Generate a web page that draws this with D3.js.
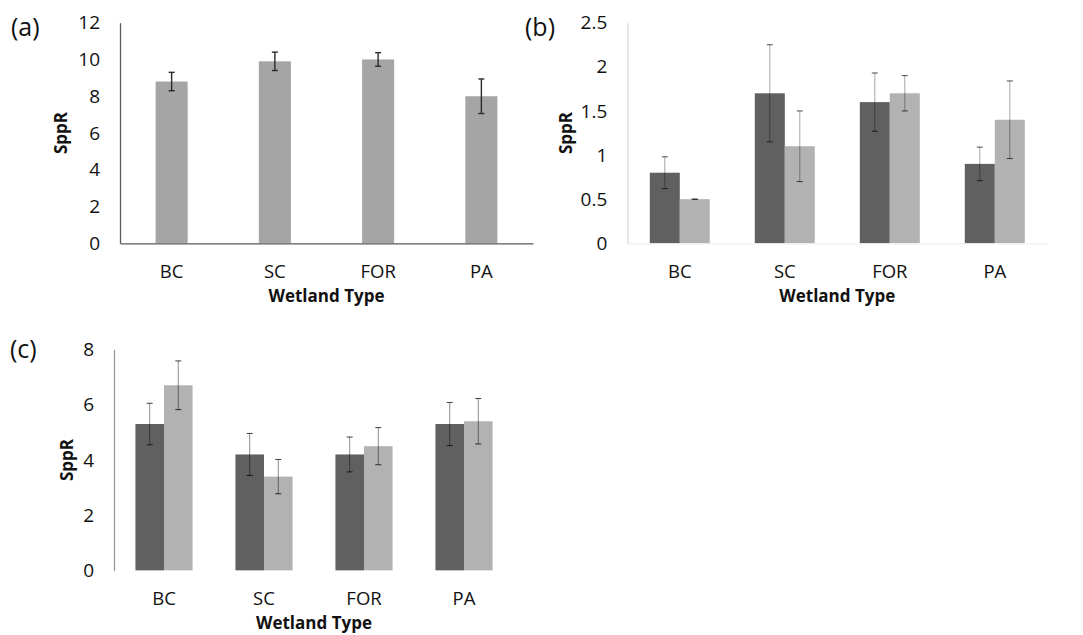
<!DOCTYPE html>
<html>
<head>
<meta charset="utf-8">
<script src="https://cdn.jsdelivr.net/npm/d3@7"></script>
<style>
  html, body { margin: 0; padding: 0; background: #fff; }
  svg { display: block; font-family: "Open Sans", sans-serif; }
</style>
</head>
<body>
<svg id="fig" width="1083" height="635"></svg>
<script>
// Wetland types on the x axis
const categories = ["BC", "SC", "FOR", "PA"];

// Panel (a): single series
const sppA = [8.8, 9.9, 10.0, 8.0];
const errA = [0.5, 0.5, 0.37, 0.94];
const ticksA = [0, 2, 4, 6, 8, 10, 12];

// Panel (b): two series
const sppBDark  = [0.8, 1.7, 1.6, 0.9];
const errBDark  = [0.18, 0.55, 0.33, 0.19];
const sppBLight = [0.5, 1.1, 1.7, 1.4];
const errBLight = [0.0, 0.4, 0.2, 0.44];
const ticksB = [0, 0.5, 1, 1.5, 2, 2.5];

// Panel (c): two series
const sppCDark  = [5.3, 4.2, 4.2, 5.3];
const errCDark  = [0.75, 0.76, 0.63, 0.78];
const sppCLight = [6.7, 3.4, 4.5, 5.4];
const errCLight = [0.88, 0.62, 0.67, 0.82];
const ticksC = [0, 2, 4, 6, 8];

const svg = d3.select("#fig");

function drawPanel(opt) {
  const g = svg.append("g");
  const x = d3.scaleBand().domain(categories).range([opt.left, opt.right]).paddingInner(0).paddingOuter(0);
  const y = d3.scaleLinear().domain([0, d3.max(opt.ticks)]).range([opt.bottom, opt.top]);

  // bars, grouped inside each category band
  const nSeries = opt.series.length;
  const inner = d3.scaleBand().domain(d3.range(nSeries))
    .range([0, x.bandwidth()]).paddingOuter(opt.outerPad).paddingInner(0);

  opt.series.forEach((s, si) => {
    const rows = categories.map((c, i) => ({ c, v: s.values[i], e: s.errors[i] }));
    g.append("g").selectAll("rect").data(rows).join("rect")
      .attr("x", d => x(d.c) + inner(si))
      .attr("width", inner.bandwidth())
      .attr("y", d => y(d.v))
      .attr("height", d => y(0) - y(d.v))
      .attr("fill", s.color);
  });

  // error bars
  opt.series.forEach((s, si) => {
    const rows = categories.map((c, i) => ({ c, v: s.values[i], e: s.errors[i] }));
    const eg = g.append("g");
    const cx = d => x(d.c) + inner(si) + inner.bandwidth() / 2;
    eg.selectAll("line.stem").data(rows).join("line")
      .attr("class", "stem")
      .attr("x1", cx).attr("x2", cx)
      .attr("y1", d => y(d.v + d.e)).attr("y2", d => y(d.v - d.e))
      .attr("stroke", opt.errStem).attr("stroke-width", opt.errWidth);
    ["hi", "lo"].forEach(k => {
      eg.selectAll("line.cap" + k).data(rows).join("line")
        .attr("class", "cap" + k)
        .attr("x1", d => cx(d) - 3).attr("x2", d => cx(d) + 3)
        .attr("y1", d => y(k === "hi" ? d.v + d.e : d.v - d.e))
        .attr("y2", d => y(k === "hi" ? d.v + d.e : d.v - d.e))
        .attr("stroke", opt.errCap).attr("stroke-width", opt.errWidth);
    });
  });

  // y axis
  const yAxis = d3.axisLeft(y).tickValues(opt.ticks).tickSize(0).tickPadding(20)
    .tickFormat(d3.format("~g"));
  const ya = g.append("g").attr("transform", `translate(${opt.left},0)`).call(yAxis);
  ya.select(".domain").attr("stroke", opt.yAxisColor).attr("stroke-width", 1.3);
  ya.selectAll("text").attr("font-size", 19).attr("fill", "#111")
    .attr("font-family", "'Open Sans', sans-serif");

  // x axis
  const xAxis = d3.axisBottom(x).tickSize(0).tickPadding(opt.xPad);
  const xa = g.append("g").attr("transform", `translate(0,${opt.bottom})`).call(xAxis);
  xa.select(".domain").attr("stroke", opt.xAxisColor).attr("stroke-width", 1.3);
  xa.selectAll("text").attr("font-size", 18.5).attr("fill", "#111")
    .attr("font-family", "'Open Sans', sans-serif");

  // axis titles
  g.append("text")
    .attr("x", (opt.left + opt.right) / 2)
    .attr("y", opt.xTitleY)
    .attr("text-anchor", "middle")
    .attr("font-weight", "bold").attr("font-size", 17).attr("fill", "#111")
    .text("Wetland Type");
  g.append("text")
    .attr("transform", `translate(${opt.yTitleX},${(opt.top + opt.bottom) / 2}) rotate(-90)`)
    .attr("text-anchor", "middle")
    .attr("dy", "0.35em")
    .attr("font-weight", "bold").attr("font-size", 17).attr("fill", "#111")
    .text("SppR");

  // panel letter
  g.append("text")
    .attr("x", opt.labelX).attr("y", opt.labelY)
    .attr("font-size", 25).attr("fill", "#111")
    .text(opt.label);
}

drawPanel({
  label: "(a)", labelX: 11, labelY: 36,
  left: 120, right: 533, top: 22.7, bottom: 243.3,
  ticks: ticksA, outerPad: 1.11,
  series: [{ values: sppA, errors: errA, color: "#a5a5a5" }],
  errStem: "#2b2b2b", errCap: "#2b2b2b", errWidth: 1.4,
  yAxisColor: "#5a5a5a", xAxisColor: "#5a5a5a",
  yTitleX: 61, xTitleY: 302, xPad: 22
});

drawPanel({
  label: "(b)", labelX: 525, labelY: 36,
  left: 627.3, right: 1047.3, top: 22.7, bottom: 243.3,
  ticks: ticksB, outerPad: 0.75,
  series: [
    { values: sppBDark, errors: errBDark, color: "#606060" },
    { values: sppBLight, errors: errBLight, color: "#b2b2b2" }
  ],
  errStem: "rgba(0,0,0,0.35)", errCap: "rgba(0,0,0,0.7)", errWidth: 1,
  yAxisColor: "#dcdcdc", xAxisColor: "#efefef",
  yTitleX: 566, xTitleY: 302, xPad: 22
});

drawPanel({
  label: "(c)", labelX: 10, labelY: 358,
  left: 114, right: 514, top: 349.3, bottom: 570.7,
  ticks: ticksC, outerPad: 0.75,
  series: [
    { values: sppCDark, errors: errCDark, color: "#606060" },
    { values: sppCLight, errors: errCLight, color: "#b2b2b2" }
  ],
  errStem: "rgba(0,0,0,0.45)", errCap: "rgba(0,0,0,0.75)", errWidth: 1,
  yAxisColor: "#9a9a9a", xAxisColor: "#ffffff",
  yTitleX: 67, xTitleY: 629, xPad: 21
});
</script>
</body>
</html>
